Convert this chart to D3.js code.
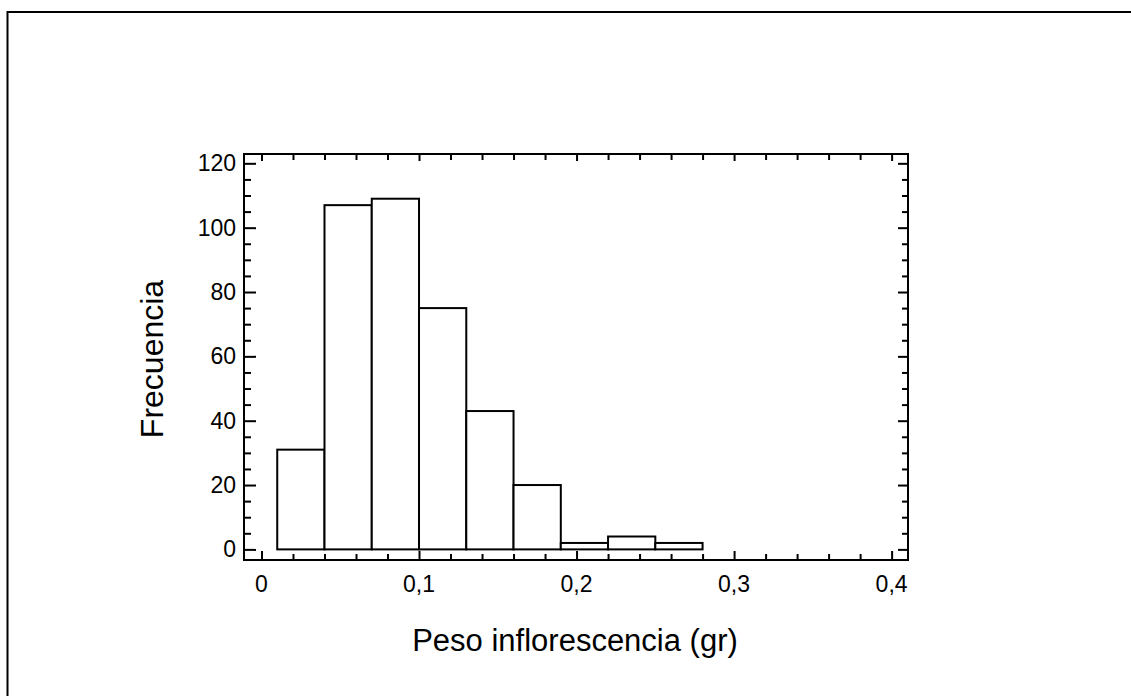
<!DOCTYPE html>
<html><head><meta charset="utf-8">
<script src="https://cdn.jsdelivr.net/npm/d3@7"></script>
<style>html,body{margin:0;padding:0;background:#fff;}svg{display:block;}</style>
</head><body>
<script>
// Data
const binEdges = [0.01, 0.04, 0.07, 0.10, 0.13, 0.16, 0.19, 0.22, 0.25, 0.28];
const frequencies = [31, 107, 109, 75, 43, 20, 2, 4, 2];
const xTickValues = [0, 0.1, 0.2, 0.3, 0.4];
const xTickLabels = ["0", "0,1", "0,2", "0,3", "0,4"];
const yTickValues = [0, 20, 40, 60, 80, 100, 120];
const xTitle = "Peso inflorescencia (gr)";
const yTitle = "Frecuencia";

const W = 1131, H = 696;
const svg = d3.select("body").append("svg").attr("width", W).attr("height", H);
const font = "'Liberation Sans', Arial, sans-serif";

// outer frame
svg.append("rect").attr("x", 7.5).attr("y", 12).attr("width", W + 20).attr("height", H + 20)
  .attr("fill", "none").attr("stroke", "#000").attr("stroke-width", 2);

const L = 244, R = 908, T = 154, B = 560;
const x = d3.scaleLinear().domain([-0.0111, 0.4104]).range([L, R]);
const y = d3.scaleLinear().domain([-3.3, 122.9]).range([B, T]);

// bars
const bins = frequencies.map((f, i) => ({x0: binEdges[i], x1: binEdges[i + 1], f}));
svg.append("g").selectAll("rect").data(bins).join("rect")
  .attr("x", d => x(d.x0)).attr("width", d => x(d.x1) - x(d.x0))
  .attr("y", d => y(d.f)).attr("height", d => y(0) - y(d.f))
  .attr("fill", "#fff").attr("stroke", "#000").attr("stroke-width", 2);

// minor tick values
const xMinor = d3.range(0, 0.4001, 0.02).filter(v => Math.abs(v * 10 - Math.round(v * 10)) > 1e-6);
const yMinor = d3.range(0, 120.001, 5).filter(v => v % 20 !== 0);

function axis(gen, tx, ty) {
  const g = svg.append("g").attr("transform", `translate(${tx},${ty})`).call(gen);
  g.select(".domain").remove();
  g.selectAll("line").attr("stroke", "#000").attr("stroke-width", 2);
  return g;
}
// bottom
axis(d3.axisBottom(x).tickValues(xTickValues).tickSize(-9).tickFormat(""), 0, B);
axis(d3.axisBottom(x).tickValues(xMinor).tickSize(-6).tickFormat(""), 0, B);
// top
axis(d3.axisTop(x).tickValues(xTickValues).tickSize(-7).tickFormat(""), 0, T);
axis(d3.axisTop(x).tickValues(xMinor).tickSize(-6).tickFormat(""), 0, T);
// left
axis(d3.axisLeft(y).tickValues(yTickValues).tickSize(-12).tickFormat(""), L, 0);
axis(d3.axisLeft(y).tickValues(yMinor).tickSize(-7).tickFormat(""), L, 0);
// right
axis(d3.axisRight(y).tickValues(yTickValues).tickSize(-10).tickFormat(""), R, 0);
axis(d3.axisRight(y).tickValues(yMinor).tickSize(-6).tickFormat(""), R, 0);

// frame of plot
svg.append("rect").attr("x", L).attr("y", T).attr("width", R - L).attr("height", B - T)
  .attr("fill", "none").attr("stroke", "#000").attr("stroke-width", 2);

// tick labels
svg.append("g").selectAll("text").data(xTickValues).join("text")
  .attr("x", d => x(d)).attr("y", 592)
  .attr("text-anchor", "middle").attr("font-family", font).attr("font-size", 23)
  .attr("fill", "#000").text((d, i) => xTickLabels[i]);
svg.append("g").selectAll("text").data(yTickValues).join("text")
  .attr("x", 236).attr("y", d => y(d) + 8)
  .attr("text-anchor", "end").attr("font-family", font).attr("font-size", 23)
  .attr("fill", "#000").text(d => d);

// titles
svg.append("text").attr("x", 575).attr("y", 651).attr("text-anchor", "middle")
  .attr("font-family", font).attr("font-size", 31).attr("fill", "#000").text(xTitle);
svg.append("text").attr("transform", "translate(163,359) rotate(-90)").attr("text-anchor", "middle")
  .attr("font-family", font).attr("font-size", 32).attr("fill", "#000").text(yTitle);
</script>
</body></html>
